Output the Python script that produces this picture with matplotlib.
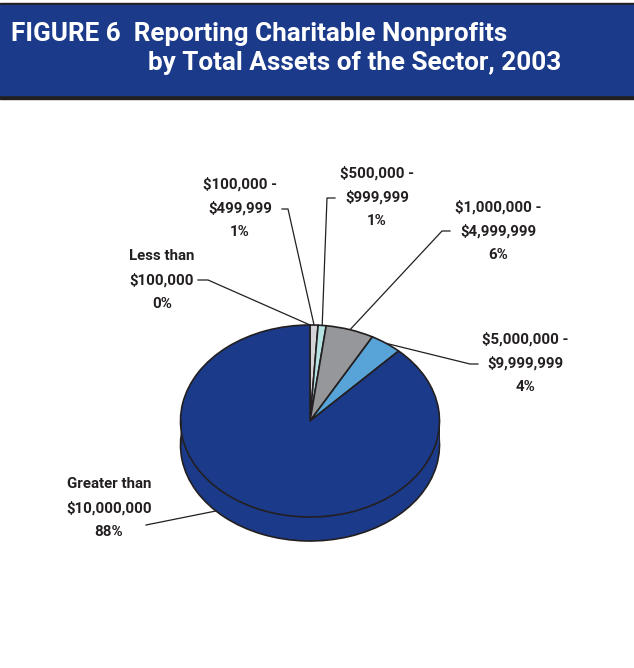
import matplotlib
matplotlib.use("Agg")
import matplotlib.pyplot as plt
from matplotlib.patches import Rectangle
import numpy as np

# asset size classes, clockwise from 12 o'clock
classes = ["Less than\n$100,000", "$100,000 -\n$499,999", "$500,000 -\n$999,999",
           "$1,000,000 -\n$4,999,999", "$5,000,000 -\n$9,999,999", "Greater than\n$10,000,000"]
shares = [0, 1, 1, 6, 4, 88]
colors = ["#d9dadb", "#d4d5d6", "#b5e2e3", "#96979a", "#58a3d8", "#1b3a8a"]

title1 = "FIGURE 6  Reporting Charitable Nonprofits"
title2 = "by Total Assets of the Sector, 2003"

W, H = 634, 668
navy = "#1b3a8a"
ink = "#231f20"

fig = plt.figure(figsize=(W / 100, H / 100), dpi=100)

# page overlay in pixel units
page = fig.add_axes([0, 0, 1, 1])
page.set_xlim(0, W)
page.set_ylim(H, 0)
page.axis("off")

page.add_patch(Rectangle((0, 2.5), W, 96.5, color=ink, zorder=1))
page.add_patch(Rectangle((0, 5), W, 90, color=navy, zorder=2))
tfont = dict(family=["Roboto", "DejaVu Sans"], weight="bold",
             size=18.8, color="white", va="baseline", zorder=3)
page.text(11, 41, title1, **tfont)
page.text(148, 70, title2, **tfont)

# pie: top face ellipse 259 x 192 px, side depth 24 px
cx, cy, rx, ry, depth_px = 310, 421, 129.5, 96, 24
d = depth_px / ry
pie_ax = fig.add_axes([(cx - rx) / W, (H - (cy + ry + depth_px)) / H,
                       2 * rx / W, (2 * ry + depth_px) / H])
wp = dict(edgecolor=ink, linewidth=1.2)
pie_ax.pie(shares, colors=colors, startangle=90, counterclock=False,
           center=(0, -d), wedgeprops=wp)
xs = np.linspace(-1, 1, 200)
pie_ax.fill_between(xs, -d, 0, color=navy, lw=0)
pie_ax.vlines([-1, 1], -d, 0, color=ink, lw=1.2)
pie_ax.pie(shares, colors=colors, startangle=90, counterclock=False,
           wedgeprops=wp)
pie_ax.set_aspect("auto")
pie_ax.set_xlim(-1, 1)
pie_ax.set_ylim(-1 - d, 1)
pie_ax.axis("off")

# rim point for each slice (mid-angle); the big slice is tagged on its side wall
bounds = np.concatenate([[0], np.cumsum(shares)]) / 100.0 * 360
mids = np.deg2rad((bounds[:-1] + bounds[1:]) / 2)
tips = [(np.sin(a), np.cos(a)) for a in mids]
big = np.deg2rad(225)
tips[-1] = (np.sin(big), np.cos(big) - d * 0.9)

to_page = pie_ax.transData + page.transData.inverted()

# label centre (x, middle line y), leader start, horizontal tick end
labels = [
    (162, 280, (198, 280), (208, 280)),
    (240, 208, (282, 209), (288, 209)),
    (377, 197, (335, 198), (327, 198)),
    (498, 231, (450, 231), (442, 231)),
    (525, 363, (478, 364), (470, 364)),
    (109, 508, (146, 525), None),
]
lfont = dict(family=["Roboto", "DejaVu Sans"], weight="bold", size=10.8,
             color=ink, ha="center", va="center", linespacing=1.85)
for name, pct, tip, (lx, ly, p0, p1) in zip(classes, shares, tips, labels):
    page.text(lx, ly, f"{name}\n{pct}%", **lfont)
    tx, ty = to_page.transform(tip)
    pts = [p0] + ([p1] if p1 else []) + [(tx, ty)]
    page.plot([p[0] for p in pts], [p[1] for p in pts], color=ink, lw=0.9, zorder=4)

fig.savefig("out.png", dpi=100)
